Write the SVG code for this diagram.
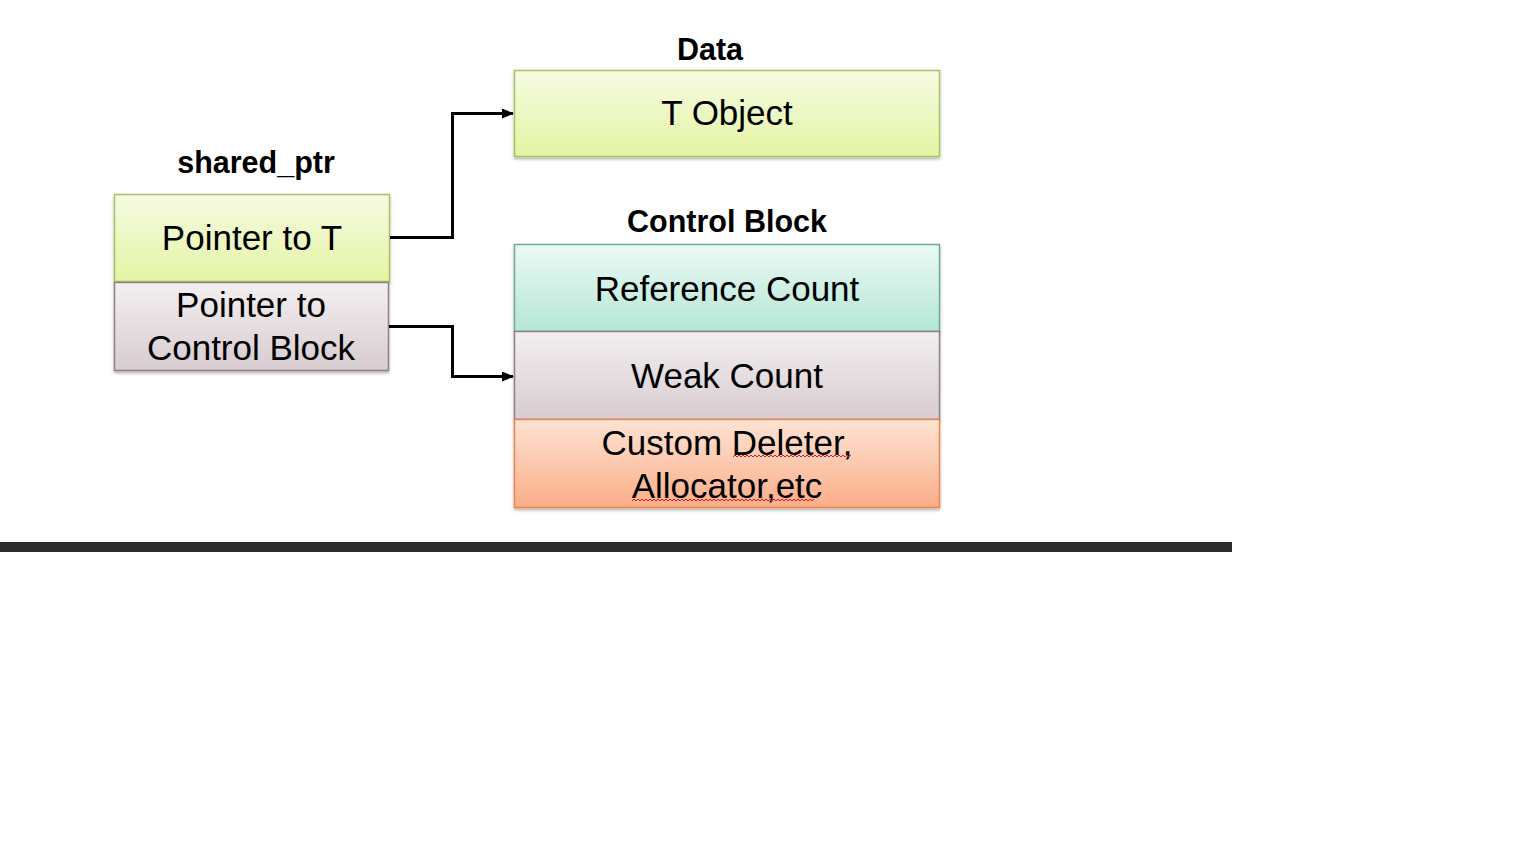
<svg xmlns="http://www.w3.org/2000/svg" width="1536" height="864" viewBox="0 0 1536 864">
<style>
.lbl{font-family:"Liberation Sans",Arial,sans-serif;font-size:35px;fill:#000;text-anchor:middle}
.ttl{font-family:"Liberation Sans",Arial,sans-serif;font-size:30.5px;font-weight:bold;fill:#000;text-anchor:middle}
.conn{fill:none;stroke:#000;stroke-width:3}
.sq{fill:none;stroke:#d02020;stroke-width:1}
</style>
<defs>
<linearGradient id="gGreen" x1="0" y1="0" x2="0" y2="1"><stop offset="0" stop-color="#f6fbe2"/><stop offset="1" stop-color="#e4f4a4"/></linearGradient>
<linearGradient id="gPink" x1="0" y1="0" x2="0" y2="1"><stop offset="0" stop-color="#f4eff1"/><stop offset="1" stop-color="#d7ccd0"/></linearGradient>
<linearGradient id="gTeal" x1="0" y1="0" x2="0" y2="1"><stop offset="0" stop-color="#ecf9f4"/><stop offset="1" stop-color="#b4e7d6"/></linearGradient>
<linearGradient id="gOrange" x1="0" y1="0" x2="0" y2="1"><stop offset="0" stop-color="#fee3d4"/><stop offset="1" stop-color="#fbae88"/></linearGradient>
<filter id="sh" x="-5%" y="-5%" width="110%" height="120%"><feDropShadow dx="0" dy="2" stdDeviation="1.5" flood-color="#000" flood-opacity="0.3"/></filter>
<marker id="arr" markerWidth="12" markerHeight="10" refX="11" refY="5" orient="auto" markerUnits="userSpaceOnUse"><path d="M0,0 L12,5 L0,10 z" fill="#000"/></marker>
</defs>
<rect width="1536" height="864" fill="#fff"/>

<text class="ttl" x="256" y="173">shared_ptr</text>
<text class="ttl" x="710" y="60">Data</text>
<text class="ttl" x="727" y="232">Control Block</text>

<g id="ptrT">
<rect x="114.5" y="194.5" width="275" height="87" fill="url(#gGreen)" stroke="#a9c163" stroke-width="1.5" filter="url(#sh)"/>
<text class="lbl" x="252" y="250">Pointer to T</text>
</g>
<g id="ptrCB">
<rect x="114.5" y="282.5" width="274" height="88" fill="url(#gPink)" stroke="#8e8086" stroke-width="1.5" filter="url(#sh)"/>
<text class="lbl" x="251" y="317">Pointer to</text>
<text class="lbl" x="251" y="360">Control Block</text>
</g>
<g id="tobj">
<rect x="514.5" y="70.5" width="425" height="86" fill="url(#gGreen)" stroke="#a9c163" stroke-width="1.5" filter="url(#sh)"/>
<text class="lbl" x="727" y="125">T Object</text>
</g>
<g id="refcount">
<rect x="514.5" y="244.5" width="425" height="87" fill="url(#gTeal)" stroke="#6ea898" stroke-width="1.5" filter="url(#sh)"/>
<text class="lbl" x="727" y="301">Reference Count</text>
</g>
<g id="weakcount">
<rect x="514.5" y="331.5" width="425" height="88" fill="url(#gPink)" stroke="#8e8086" stroke-width="1.5" filter="url(#sh)"/>
<text class="lbl" x="727" y="388">Weak Count</text>
</g>
<g id="deleter">
<rect x="514.5" y="419.5" width="425" height="88" fill="url(#gOrange)" stroke="#ea8450" stroke-width="1.5" filter="url(#sh)"/>
<text class="lbl" x="727" y="455">Custom Deleter,</text>
<text class="lbl" x="727" y="498">Allocator,etc</text>
<path class="sq" d="M733,457 l2,-2 l2,2 l2,-2 l2,2 l2,-2 l2,2 l2,-2 l2,2 l2,-2 l2,2 l2,-2 l2,2 l2,-2 l2,2 l2,-2 l2,2 l2,-2 l2,2 l2,-2 l2,2 l2,-2 l2,2 l2,-2 l2,2 l2,-2 l2,2 l2,-2 l2,2 l2,-2 l2,2 l2,-2 l2,2 l2,-2 l2,2 l2,-2 l2,2 l2,-2 l2,2 l2,-2 l2,2 l2,-2 l2,2 l2,-2 l2,2 l2,-2 l2,2 l2,-2 l2,2 l2,-2 l2,2 l2,-2 l2,2 l2,-2 l2,2 l2,-2 l2,2 l2,-2 l2,2 l2,-2"/>
<path class="sq" d="M632,501 l2,-2 l2,2 l2,-2 l2,2 l2,-2 l2,2 l2,-2 l2,2 l2,-2 l2,2 l2,-2 l2,2 l2,-2 l2,2 l2,-2 l2,2 l2,-2 l2,2 l2,-2 l2,2 l2,-2 l2,2 l2,-2 l2,2 l2,-2 l2,2 l2,-2 l2,2 l2,-2 l2,2 l2,-2 l2,2 l2,-2 l2,2 l2,-2 l2,2 l2,-2 l2,2 l2,-2 l2,2 l2,-2 l2,2 l2,-2 l2,2 l2,-2 l2,2 l2,-2 l2,2 l2,-2 l2,2 l2,-2 l2,2 l2,-2 l2,2 l2,-2 l2,2 l2,-2 l2,2 l2,-2 l2,2 l2,-2 l2,2 l2,-2 l2,2 l2,-2 l2,2 l2,-2 l2,2 l2,-2 l2,2 l2,-2 l2,2 l2,-2 l2,2 l2,-2 l2,2 l2,-2 l2,2 l2,-2 l2,2 l2,-2 l2,2 l2,-2 l2,2 l2,-2 l2,2 l2,-2 l2,2 l2,-2 l2,2 l2,-2"/>
</g>

<g id="connectors">
<path class="conn" d="M390,237.5 H452.5 V113.5 H513" marker-end="url(#arr)"/>
<path class="conn" d="M389,326.5 H452.5 V376.5 H513" marker-end="url(#arr)"/>
</g>

<rect x="0" y="542" width="1232" height="10" fill="#2b2b2b"/>
</svg>
